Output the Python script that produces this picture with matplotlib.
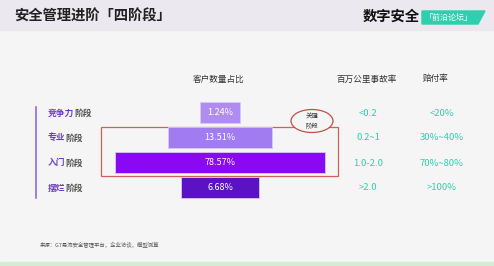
import matplotlib
matplotlib.use("Agg")
import matplotlib.pyplot as plt
from matplotlib.patches import Rectangle, Ellipse, Polygon

plt.rcParams['font.family'] = ['Noto Sans CJK SC', 'DejaVu Sans']

# ---- data ----
stage_prefix = ["竞争力", "专业", "入门", "摆烂"]
stage_suffix = "阶段"
share = [1.24, 13.51, 78.57, 6.68]
share_labels = ["1.24%", "13.51%", "78.57%", "6.68%"]
accident_rate = ["<0.2", "0.2~1", "1.0-2.0", ">2.0"]
payout_rate = ["<20%", "30%~40%", "70%~80%", ">100%"]
headers = ["客户数量占比", "百万公里事故率", "赔付率"]
title = "安全管理进阶「四阶段」"
source = "来源：G7易流安全管理平台，企业访谈，模型测算"

bar_colors = ["#b08cf2", "#a07cf0", "#8a08f2", "#5a12c4"]
teal = "#2ecfae"
purple = "#6b3fc4"

W, H = 494, 266
fig = plt.figure(figsize=(W / 100, H / 100), dpi=100)
fig.patch.set_facecolor("#f5f5f5")
ax = fig.add_axes([0, 0, 1, 1])
ax.set_xlim(0, W)
ax.set_ylim(H, 0)
ax.axis("off")

# backgrounds
ax.add_patch(Rectangle((0, 0), W, 30, color="#ebe9ef", zorder=0))
ax.add_patch(Rectangle((0, 262), W, 4, color="#d3ecd2", zorder=0))

# title
ax.text(14, 17, title, fontsize=10.3, fontweight="bold", color="#222222", va="center", ha="left")
ax.text(363, 17, "数字安全", fontsize=10.3, fontweight="bold", color="#111111", va="center", ha="left")
ax.add_patch(Polygon([(422, 11), (485, 11), (478, 24), (422, 24)], closed=True, color=teal, zorder=1))
ax.text(449, 17.5, "「前沿论坛」", fontsize=5.8, color="white", va="center", ha="center", zorder=2)

# headers
hx = [219, 367, 436]
for x, h in zip(hx, headers):
    ax.text(x, 79, h, fontsize=6.2, fontweight="medium", color="#333333", va="center", ha="center")

# left vertical line
ax.plot([36, 36], [107, 198], color="#8a5cd8", lw=1.1)

row_y = [113 + 25 * i for i in range(4)]
for i, y in enumerate(row_y):
    t = ax.text(48, y, stage_prefix[i], fontsize=6.3, fontweight="bold", color=purple,
                va="center", ha="left")
    ax.annotate(stage_suffix, xy=(1, 0.5), xycoords=t, xytext=(0, 0),
                textcoords="offset points", fontsize=6.3, fontweight="bold",
                color="#555555", va="center", ha="left")
    ax.text(368, y, accident_rate[i], fontsize=6.8, fontweight="medium", color=teal,
            va="center", ha="center")
    ax.text(442, y, payout_rate[i], fontsize=6.8, fontweight="medium", color=teal,
            va="center", ha="center")

# red highlight rectangle + ellipse
ax.add_patch(Rectangle((101, 127), 237, 49, fill=False, ec="#d2605a", lw=0.9, zorder=3))
ax.add_patch(Ellipse((312, 121), 42, 23, fc="#f5f5f5", ec="#c0504a", lw=0.9, zorder=4))
ax.text(312, 121.5, "关键\n阶段", fontsize=4.6, color="#333333", ha="center", va="center",
        linespacing=1.25, zorder=5)

# source
ax.text(40, 245, source, fontsize=3.9, color="#555555", va="center", ha="left")

# ---- bar axes (funnel, centered) ----
left_px, right_px, top_px, bot_px = 100, 340, 100, 200
bax = fig.add_axes([left_px / W, 1 - bot_px / H, (right_px - left_px) / W, (bot_px - top_px) / H])
bax.patch.set_alpha(0)
bax.axis("off")
half = (right_px - left_px) / 2
bax.set_xlim(-half, half)
bax.set_ylim(3.5, -0.5)
scale = 36.7
widths = [v ** 0.4 * scale for v in share]
ypos = list(range(len(share)))
bax.barh(ypos, widths, left=[-w / 2 for w in widths], height=0.84,
         color=bar_colors, edgecolor="#d8c8fa", linewidth=0.6, zorder=2)
for y, lab in zip(ypos, share_labels):
    bax.text(0, y, lab, color="white", fontsize=6.5, fontweight="medium",
             ha="center", va="center", zorder=3)

fig.savefig("out.png", dpi=100, facecolor=fig.get_facecolor())
